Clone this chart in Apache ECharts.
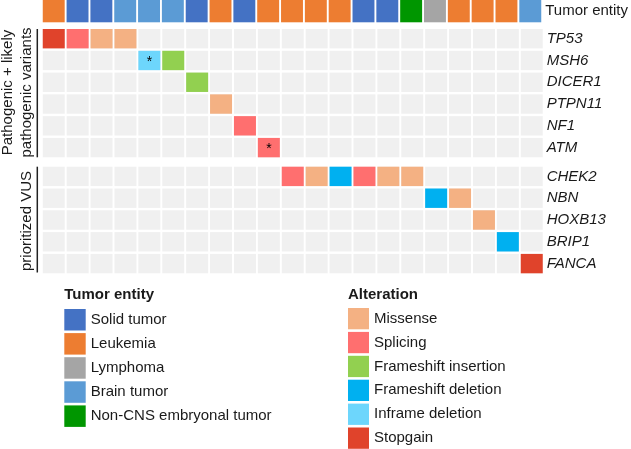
<!DOCTYPE html>
<html>
<head>
<meta charset="utf-8">
<script src="https://cdn.jsdelivr.net/npm/echarts@6/dist/echarts.min.js"></script>
<style>html,body{margin:0;padding:0;background:#fff}#c{width:631px;height:449px}</style>
</head>
<body>
<div id="c"></div>
<script>
// ---------- data ----------
const columns = ['1','2','3','4','5','6','7','8','9','10','11','12','13','14','15','16','17','18','19','20','21'];
const columnEntities = ['Leukemia','Solid tumor','Solid tumor','Brain tumor','Brain tumor','Brain tumor','Solid tumor',
  'Leukemia','Solid tumor','Leukemia','Leukemia','Leukemia','Leukemia','Solid tumor','Solid tumor',
  'Non-CNS embryonal tumor','Lymphoma','Leukemia','Leukemia','Leukemia','Brain tumor'];
const entityTypes = ['Solid tumor','Leukemia','Lymphoma','Brain tumor','Non-CNS embryonal tumor'];
const entityColors = ['#4472C4','#ED7D31','#A5A5A5','#5B9BD5','#009600'];
const alterationTypes = ['Missense','Splicing','Frameshift insertion','Frameshift deletion','Inframe deletion','Stopgain'];
const alterationColors = ['#F4B183','#FF6F6F','#92D050','#00B0F0','#6DD6FC','#E0432B'];
const genesPathogenic = ['TP53','MSH6','DICER1','PTPN11','NF1','ATM'];
const genesVUS = ['CHEK2','NBN','HOXB13','BRIP1','FANCA'];
const variantGenes = ['TP53','TP53','TP53','TP53','MSH6','MSH6','DICER1','PTPN11','NF1','ATM',
  'CHEK2','CHEK2','CHEK2','CHEK2','CHEK2','CHEK2','NBN','NBN','HOXB13','BRIP1','FANCA'];
const variantColumns = [0,1,2,3,4,5,6,7,8,9,10,11,12,13,14,15,16,17,18,19,20];
const variantTypes = ['Stopgain','Splicing','Missense','Missense','Inframe deletion','Frameshift insertion',
  'Frameshift insertion','Missense','Splicing','Splicing','Splicing','Missense','Frameshift deletion',
  'Splicing','Missense','Missense','Frameshift deletion','Missense','Missense','Frameshift deletion','Stopgain'];
const variantStars = [0,0,0,0,1,0,0,0,0,1,0,0,0,0,0,0,0,0,0,0,0];

// ---------- chart ----------
const FONT = 'Liberation Sans, Arial, sans-serif';
const TXT = '#1a1a1a';
const chart = echarts.init(document.getElementById('c'), null, {renderer:'canvas'});

function cellRenderer(gapX, gapY) {
  return function (params, api) {
    const c = api.coord([api.value(0), api.value(1)]);
    const s = api.size([1, 1]);
    const w = s[0] - gapX, h = s[1] - gapY;
    const children = [{
      type: 'rect',
      shape: {x: c[0] - w / 2, y: c[1] - h / 2, width: w, height: h},
      style: {fill: api.visual('color')}
    }];
    if (api.value(2) === 1) {
      children.push({
        type: 'text',
        style: {text: '*', x: c[0], y: c[1] + 1.5, fill: '#000', font: '14px ' + FONT,
          align: 'center', verticalAlign: 'middle'}
      });
    }
    return {type: 'group', children: children};
  };
}

const colL = 41.8, colW = 501.9;
const grids = [
  {left: colL, width: colW, top: 0, height: 22.3},
  {left: colL, width: colW, top: 27.8, height: 130.7},
  {left: colL, width: colW, top: 165.5, height: 109}
];
const xAxes = grids.map((g, i) => ({type: 'category', gridIndex: i, data: columns, show: false}));
const yLab = (italic) => ({fontSize: 15, fontFamily: FONT, color: TXT, fontStyle: italic ? 'italic' : 'normal', margin: 3});
const yAxes = [
  {type: 'category', gridIndex: 0, data: ['Tumor entity'], position: 'right', axisLine: {show: false}, axisTick: {show: false}, axisLabel: yLab(false)},
  {type: 'category', gridIndex: 1, data: genesPathogenic, inverse: true, position: 'right', axisLine: {show: false}, axisTick: {show: false}, axisLabel: yLab(true)},
  {type: 'category', gridIndex: 2, data: genesVUS, inverse: true, position: 'right', axisLine: {show: false}, axisTick: {show: false}, axisLabel: yLab(true)}
];

const series = [];
// tumor entity row
entityTypes.forEach((t, k) => {
  const d = [];
  columnEntities.forEach((e, i) => { if (e === t) d.push([i, 0, 0]); });
  series.push({type: 'custom', name: t, xAxisIndex: 0, yAxisIndex: 0, renderItem: cellRenderer(1.9, 0),
    itemStyle: {color: entityColors[k]}, encode: {x: 0, y: 1}, data: d});
});
// background cells
[genesPathogenic, genesVUS].forEach((genes, gi) => {
  const d = [];
  genes.forEach((g, r) => columns.forEach((c, i) => d.push([i, r, 0])));
  series.push({type: 'custom', name: 'bg', xAxisIndex: gi + 1, yAxisIndex: gi + 1, renderItem: cellRenderer(1.9, 2.4),
    itemStyle: {color: '#F0F0F0'}, encode: {x: 0, y: 1}, data: d, silent: true});
});
// alterations
alterationTypes.forEach((t, k) => {
  [genesPathogenic, genesVUS].forEach((genes, gi) => {
    const d = [];
    variantTypes.forEach((vt, i) => {
      const r = genes.indexOf(variantGenes[i]);
      if (vt === t && r >= 0) d.push([variantColumns[i], r, variantStars[i]]);
    });
    series.push({type: 'custom', name: t, xAxisIndex: gi + 1, yAxisIndex: gi + 1, renderItem: cellRenderer(1.9, 2.4),
      itemStyle: {color: alterationColors[k]}, encode: {x: 0, y: 1}, data: d});
  });
});

const legendText = {fontSize: 15, fontFamily: FONT, color: TXT};
chart.setOption({
  animation: false,
  grid: grids,
  xAxis: xAxes,
  yAxis: yAxes,
  series: series,
  legend: [
    {data: entityTypes, orient: 'vertical', left: 64.3, top: 309, itemWidth: 21.4, itemHeight: 21.5, itemGap: 2.6,
      icon: 'rect', padding: 0, selectedMode: false, textStyle: legendText},
    {data: alterationTypes, orient: 'vertical', left: 348, top: 308, itemWidth: 21, itemHeight: 21.3, itemGap: 2.6,
      icon: 'rect', padding: 0, selectedMode: false, textStyle: legendText}
  ],
  graphic: [
    {type: 'text', x: 7.5, y: 92.5, rotation: Math.PI / 2,
      style: {text: 'Pathogenic + likely', font: '15px ' + FONT, fill: TXT, textAlign: 'center', textVerticalAlign: 'middle'}},
    {type: 'text', x: 26.5, y: 92.5, rotation: Math.PI / 2,
      style: {text: 'pathogenic variants', font: '15px ' + FONT, fill: TXT, textAlign: 'center', textVerticalAlign: 'middle'}},
    {type: 'text', x: 26.5, y: 221, rotation: Math.PI / 2,
      style: {text: 'prioritized VUS', font: '15px ' + FONT, fill: TXT, textAlign: 'center', textVerticalAlign: 'middle'}},
    {type: 'line', shape: {x1: 37.3, y1: 29, x2: 37.3, y2: 157.3}, style: {stroke: '#222', lineWidth: 1.5}},
    {type: 'line', shape: {x1: 37.3, y1: 166.7, x2: 37.3, y2: 272.5}, style: {stroke: '#222', lineWidth: 1.5}},
    {type: 'text', x: 64.3, y: 295,
      style: {text: 'Tumor entity', font: 'bold 15px ' + FONT, fill: TXT, textAlign: 'left', textVerticalAlign: 'middle'}},
    {type: 'text', x: 348, y: 295,
      style: {text: 'Alteration', font: 'bold 15px ' + FONT, fill: TXT, textAlign: 'left', textVerticalAlign: 'middle'}}
  ]
});
</script>
</body>
</html>
